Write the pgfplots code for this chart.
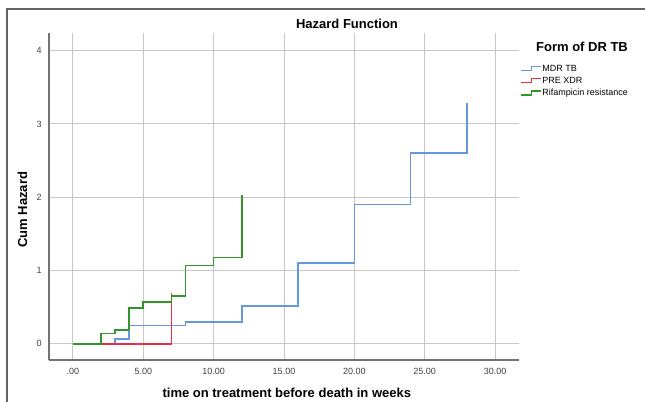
\documentclass[border=0pt]{standalone}
\usepackage{fontspec}
\setmainfont{Liberation Sans}
\usepackage{pgfplots}
\pgfplotsset{compat=1.18}
\definecolor{mdrBlue}{RGB}{100,150,225}
\definecolor{preRed}{RGB}{235,45,70}
\definecolor{rifGreen}{RGB}{50,150,45}
\definecolor{frameGray}{RGB}{100,100,100}

\begin{document}
\begin{tikzpicture}
% page = 645x402 px, 1px = 0.75pt, origin at lower left of the axis box
\useasboundingbox (-36.75pt,-31.5pt) rectangle (447pt,270pt);
\draw[frameGray, line width=0.9pt] (-31.5pt,-40pt) -- (-31.5pt,263.25pt) -- (460pt,263.25pt);
\begin{axis}[
    at={(0pt,0pt)}, anchor=south west,
    scale only axis, width=352.5pt, height=245.25pt,
    xmin=-1.7, xmax=31.7, ymin=-0.22, ymax=4.24,
    axis x line*=bottom, axis y line*=left,
    axis line style={-, color=black!55, line width=0.9pt},
    xtick={0,5,10,15,20,25,30},
    xticklabels={.00,5.00,10.00,15.00,20.00,25.00,30.00},
    ytick={0,1,2,3,4}, yticklabels={0,1,2,3,4},
    major tick length=0pt,
    grid=major, grid style={color=black!22, line width=0.75pt},
    tick label style={font=\fontsize{6.75}{8}\selectfont, color=black!75},
    xticklabel style={yshift=-3pt},
    yticklabel style={xshift=-2pt},
    font=\fontsize{9.75}{12}\selectfont,
    xlabel={\textbf{time on treatment before death in weeks}},
    xlabel style={at={(axis description cs:0.506,-0.101)}, anchor=center},
    ylabel={\textbf{Cum Hazard}},
    ylabel style={at={(axis description cs:-0.0564,0.459)}, anchor=center},
    legend style={at={(axis description cs:1.002,0.909)}, anchor=north west,
        draw=none, fill=none, inner sep=0pt,
        font=\fontsize{6.75}{8}\selectfont,
        nodes={inner sep=0.5pt, text height=5.5pt, text depth=1.5pt},
        row sep=1.2pt},
    legend cell align=left,
    legend image code/.code={\draw[#1] (0pt,-1.5pt) -- (8pt,-1.5pt) -- (8pt,1.5pt) -- (15pt,1.5pt);},
]
\addplot[const plot, color=mdrBlue, line width=1.2pt] coordinates {
    (0,0)(3,0.07)(4,0.25)(8,0.30)(12,0.52)(16,1.10)(20,1.90)(24,2.60)(28,3.29)
};
\addlegendentry{MDR TB}
\addplot[const plot, color=preRed, line width=1.2pt] coordinates {
    (0,0)(7,0.69)
};
\addlegendentry{PRE XDR}
\addplot[const plot, color=rifGreen, line width=1.2pt] coordinates {
    (0,0)(2,0.14)(3,0.19)(4,0.49)(5,0.57)(7,0.65)(8,1.07)(10,1.18)(12,2.03)
};
\addlegendentry{Rifampicin resistance}
\end{axis}
\node[font=\fontsize{9.75}{12}\selectfont\bfseries, anchor=center] at (223.5pt,252pt) {Hazard Function};
\node[font=\fontsize{9.75}{12}\selectfont\bfseries, anchor=center] at (399.75pt,235pt) {Form of DR TB};
\end{tikzpicture}
\end{document}
